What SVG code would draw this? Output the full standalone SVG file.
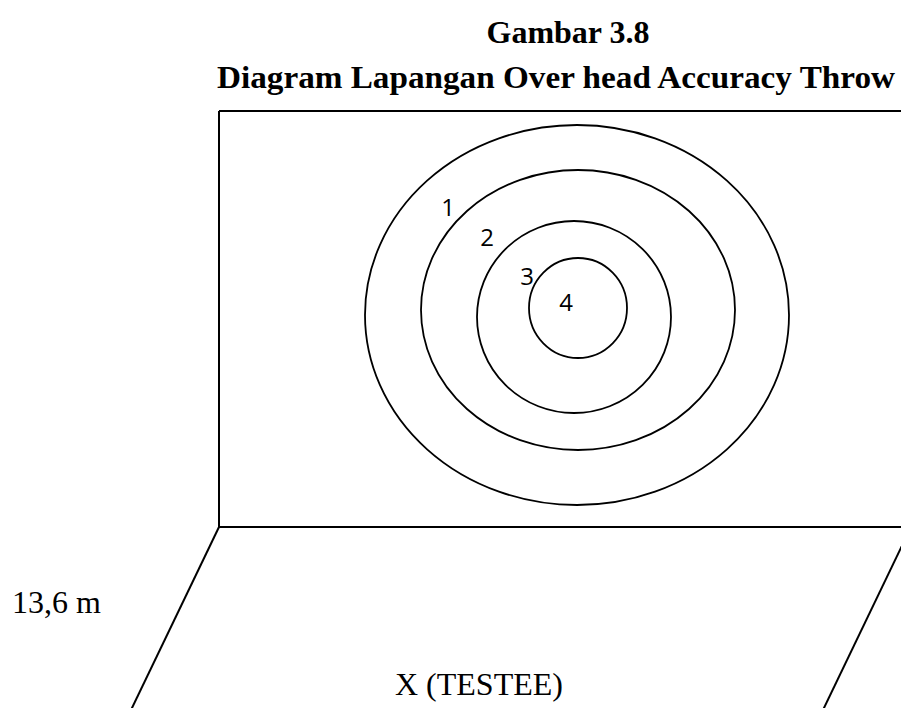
<svg xmlns="http://www.w3.org/2000/svg" width="901" height="708" viewBox="0 0 901 708">
<style>
.ln{fill:none;stroke:#000;stroke-width:2}
.ring{fill:none;stroke:#000;stroke-width:1.8}
.ttl{font-family:"Liberation Serif","Times New Roman",serif;font-weight:bold;font-size:32px;fill:#000}
.body{font-family:"Liberation Serif","Times New Roman",serif;font-size:32px;fill:#000}
.num{font-family:"Open Sans","Noto Sans",sans-serif;font-size:24px;fill:#000}
</style>
<rect width="901" height="708" fill="#fff"/>
<g id="title">
<text class="ttl" x="568" y="43" text-anchor="middle">Gambar 3.8</text>
<text class="ttl" x="217" y="88" textLength="678" lengthAdjust="spacingAndGlyphs">Diagram Lapangan Over head Accuracy Throw</text>
</g>
<g id="field">
<polyline class="ln" points="219,111 919,111"/>
<polyline class="ln" points="219,111 219,527 919,527"/>
<line class="ln" x1="219" y1="527" x2="131" y2="710"/>
<line class="ln" x1="911" y1="527" x2="823" y2="710"/>
</g>
<g id="target">
<ellipse id="ring1" class="ring" cx="577" cy="315" rx="212" ry="190"/>
<ellipse id="ring2" class="ring" cx="578" cy="310" rx="157" ry="140"/>
<ellipse id="ring3" class="ring" cx="574" cy="317" rx="97" ry="96"/>
<ellipse id="ring4" class="ring" cx="578" cy="308" rx="49" ry="50"/>
<text class="num" x="448" y="216" text-anchor="middle">1</text>
<text class="num" x="487" y="246" text-anchor="middle">2</text>
<text class="num" x="527" y="285" text-anchor="middle">3</text>
<text class="num" x="566" y="311" text-anchor="middle">4</text>
</g>
<g id="labels">
<text class="body" x="12" y="613">13,6 m</text>
<text class="body" x="395" y="695">X (TESTEE)</text>
</g>
</svg>
